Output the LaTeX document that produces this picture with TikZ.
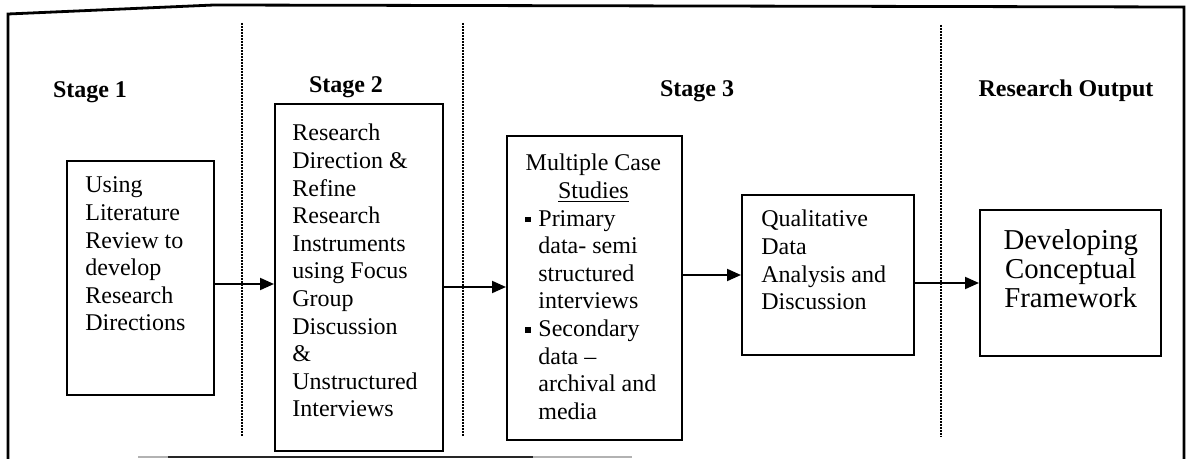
\documentclass[tikz,border=0pt]{standalone}
\usepackage{fontspec}
\setmainfont{Liberation Serif}
\usetikzlibrary{arrows.meta,calc}
\newcommand{\sqbul}{\makebox[6.5pt][l]{\rule[2pt]{2.8pt}{2.8pt}}}
\newcommand{\hind}{\hspace*{6.5pt}}
\begin{document}
\begin{tikzpicture}[x=0.5pt,y=-0.5pt,
  box/.style={draw,line width=1.2pt,inner sep=0pt,anchor=north west},
  txt/.style={inner sep=0pt,anchor=base west,font=\fontsize{12}{13.8}\selectfont},
  bigtxt/.style={inner sep=0pt,anchor=base,font=\fontsize{14.4}{14.3}\selectfont},
  stagelbl/.style={inner sep=0pt,anchor=base,font=\fontsize{12}{14}\selectfont\bfseries},
  sep/.style={line width=1pt,dash pattern=on 0.9pt off 0.6pt},
  arr/.style={line width=1pt,-{Triangle[length=7pt,width=6pt]}},
]
\useasboundingbox (0,0) rectangle (1189,459);
% outer frame
\draw[line width=1.4pt] (8,459) -- (8,14) -- (214,5) -- (1184,7) -- (1184,459);
\draw[gray!60,line width=1pt] (138,457.5) -- (632,457.5);
\draw[black!85,line width=1pt] (168,457.5) -- (533,457.5);
% separators
\draw[sep] (242,23) -- (242,436);
\draw[sep] (463,23) -- (463,436);
\draw[sep] (941,25) -- (941,437);
% stage labels
\node[stagelbl] (s1) at (90,98) {Stage 1};
\node[stagelbl] (s2) at (346,93) {Stage 2};
\node[stagelbl] (s3) at (697,97) {Stage 3};
\node[stagelbl] (s4) at (1066,97) {Research Output};
% boxes
\node[box,minimum width=73.5pt,minimum height=117pt] (b1) at (66,160) {};
\node[box,minimum width=84pt,minimum height=173.5pt] (b2) at (274,103) {};
\node[box,minimum width=87.5pt,minimum height=152pt] (b3) at (506,135) {};
\node[box,minimum width=86pt,minimum height=80pt] (b4) at (741,194) {};
\node[box,minimum width=90.5pt,minimum height=73pt] (b5) at (979,209) {};
% texts
\node[txt] (t1) at ($(b1.north west)+(19,33)$) {\parbox[t]{70pt}{\raggedright
Using\\Literature\\Review to\\develop\\Research\\Directions}};
\node[txt] (t2) at ($(b2.north west)+(18,38)$) {\parbox[t]{80pt}{\raggedright
Research\\Direction \&\\Refine\\Research\\Instruments\\using Focus\\Group\\Discussion\\\&\\Unstructured\\Interviews}};
\node[txt] (t3) at ($(b3.north west)+(19,36)$) {\parbox[t]{68pt}{\centering
Multiple Case\\\underline{Studies}\par\raggedright
\sqbul Primary\\\hind data- semi\\\hind structured\\\hind interviews\\
\sqbul Secondary\\\hind data --\\\hind archival and\\\hind media}};
\node[txt] (t4) at ($(b4.north west)+(20,33)$) {\parbox[t]{80pt}{\raggedright
Qualitative\\Data\\Analysis and\\Discussion}};
\node[bigtxt] (t5) at ($(b5.north)+(0,41)$) {\parbox[t]{90pt}{\centering
Developing\\Conceptual\\Framework}};
% arrows
\coordinate (y12) at (0,284);
\coordinate (y23) at (0,287);
\coordinate (y34) at (0,275);
\coordinate (y45) at (0,283);
\draw[arr] (b1.east |- y12) -- (b2.west |- y12);
\draw[arr] (b2.east |- y23) -- (b3.west |- y23);
\draw[arr] (b3.east |- y34) -- (b4.west |- y34);
\draw[arr] (b4.east |- y45) -- (b5.west |- y45);
\end{tikzpicture}
\end{document}
